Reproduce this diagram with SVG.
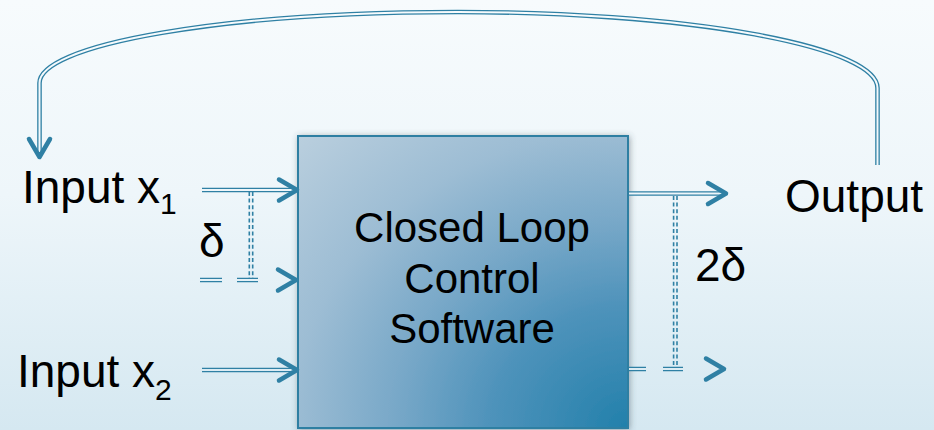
<svg xmlns="http://www.w3.org/2000/svg" xmlns:xlink="http://www.w3.org/1999/xlink" width="934" height="430" viewBox="0 0 934 430">
  <defs>
    <!-- page background, also used as the inner gap of double lines -->
    <linearGradient id="bg" gradientUnits="userSpaceOnUse" x1="0" y1="0" x2="0" y2="430">
      <stop offset="0" stop-color="#f7fbfd"/>
      <stop offset="0.45" stop-color="#eef6fa"/>
      <stop offset="1" stop-color="#d5e8f1"/>
    </linearGradient>
    <radialGradient id="boxFill" cx="1" cy="1" r="1.414" fx="1" fy="1">
      <stop offset="0" stop-color="#2280ab"/>
      <stop offset="0.3" stop-color="#4f93bb"/>
      <stop offset="0.5" stop-color="#78a8c8"/>
      <stop offset="0.72" stop-color="#9dbdd4"/>
      <stop offset="1" stop-color="#bacfde"/>
    </radialGradient>
    <filter id="shadow" x="-10%" y="-10%" width="120%" height="120%">
      <feGaussianBlur in="SourceAlpha" stdDeviation="3"/>
      <feOffset dx="1" dy="1" result="b"/>
      <feFlood flood-color="#3a4a55" flood-opacity="0.45"/>
      <feComposite in2="b" operator="in"/>
      <feMerge>
        <feMergeNode/>
        <feMergeNode in="SourceGraphic"/>
      </feMerge>
    </filter>
    <!-- open chevron arrowhead, tip at origin pointing +x -->
    <path id="chev" d="M-19,-10.5 L-1,0 L-19,10.5"/>
    <style>
      .lbl { font-family: "Liberation Sans", Arial, sans-serif; font-size: 46px; fill: #000; }
      .box-text { font-family: "Liberation Sans", Arial, sans-serif; font-size: 42px; fill: #000; text-anchor: middle; }
      .outer { fill: none; stroke: #2f80a4; stroke-width: 4.6; }
      .inner { fill: none; stroke: url(#bg); stroke-width: 2; }
      .thin { fill: none; stroke: #2f80a4; stroke-width: 1.6; stroke-dasharray: 4 2.6; }
      .head { fill: none; stroke: #2f80a4; stroke-width: 4.5; stroke-linecap: round; stroke-linejoin: round; }
    </style>
  </defs>

  <rect width="934" height="430" fill="url(#bg)"/>

  <g id="controller">
    <rect x="298" y="136" width="330" height="292" fill="url(#boxFill)" stroke="#2f7fa2" stroke-width="2" filter="url(#shadow)"/>
    <text class="box-text" x="472" y="242">Closed Loop</text>
    <text class="box-text" x="472" y="292.5">Control</text>
    <text class="box-text" x="472" y="343">Software</text>
  </g>

  <g id="input-x1">
    <text class="lbl" x="22" y="203">Input x<tspan font-size="30" dy="11">1</tspan></text>
  </g>
  <g id="input-x2">
    <text class="lbl" x="17" y="387">Input x<tspan font-size="30" dy="13">2</tspan></text>
  </g>
  <g id="output">
    <text class="lbl" x="785" y="212">Output</text>
  </g>

  <g id="connectors">
    <!-- feedback from output back to input x1 -->
    <path class="outer" d="M877.5,165 V88 A420,76 0 0 0 458,12 A418,71 0 0 0 39.5,83 V156"/>
    <path class="inner" d="M877.5,165 V88 A420,76 0 0 0 458,12 A418,71 0 0 0 39.5,83 V152"/>
    <use href="#chev" class="head" transform="translate(39.5,158) rotate(90)"/>

    <!-- input x1 -->
    <path class="outer" d="M202,190 H296"/>
    <path class="inner" d="M202,190 H293"/>
    <use href="#chev" class="head" transform="translate(298,190)"/>

    <!-- input x1 shifted by delta -->
    <path class="outer" d="M200,280 H222 M237,280 H258"/>
    <path class="inner" d="M200,280 H222 M237,280 H258"/>
    <use href="#chev" class="head" transform="translate(297,280)"/>
    <path class="thin" d="M249.3,192 V279 M252.7,192 V279"/>
    <text class="lbl" x="199" y="257">δ</text>

    <!-- input x2 -->
    <path class="outer" d="M202,370 H296"/>
    <path class="inner" d="M202,370 H293"/>
    <use href="#chev" class="head" transform="translate(298,370)"/>

    <!-- output -->
    <path class="outer" d="M629,193.5 H725"/>
    <path class="inner" d="M629,193.5 H722"/>
    <use href="#chev" class="head" transform="translate(727,193.5)"/>

    <!-- output shifted by 2 delta -->
    <path class="outer" d="M629,369 H646 M663,369 H683"/>
    <path class="inner" d="M629,369 H646 M663,369 H683"/>
    <use href="#chev" class="head" transform="translate(725,369)"/>
    <path class="thin" d="M673.6,196 V368 M677,196 V368"/>
    <text class="lbl" x="695" y="281">2δ</text>
  </g>
</svg>
